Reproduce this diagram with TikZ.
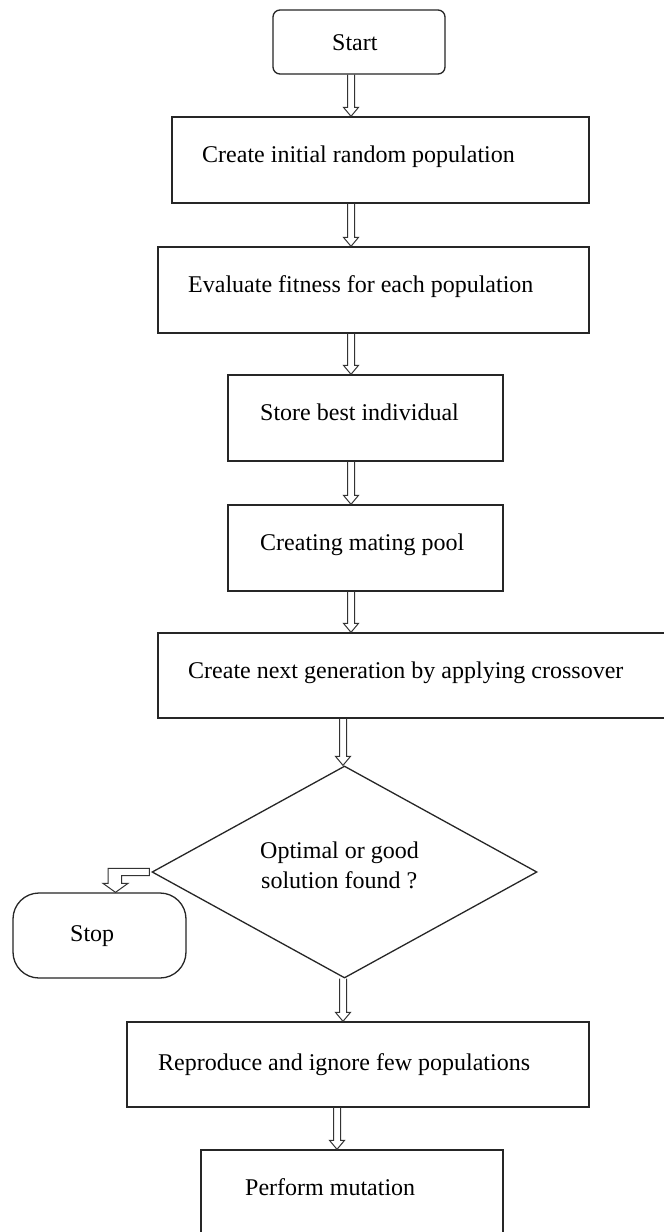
\documentclass[tikz,border=0pt]{standalone}
\usepackage{fontspec}
\setmainfont{Liberation Serif}
\usetikzlibrary{shapes.geometric,calc}
\tikzset{
  shp/.style={draw=black!85, line width=1.3pt, inner sep=0pt},
  box/.style={shp, rectangle},
  startbox/.style={shp, rectangle, rounded corners=7pt},
  stopbox/.style={shp, rectangle, rounded corners=26pt},
  decision/.style={shp, diamond},
  txt/.style={font=\fontsize{24}{30}\selectfont, anchor=base west, inner sep=0pt, text=black},
  harrow/.style={draw=black!80, line width=1pt, line join=miter}
}
% vertical hollow block arrow: x, from node, to node
\newcommand{\hollowdown}[3]{%
  \draw[harrow] let \p1=(#1,0 |- #2.south), \p2=(#1,0 |- #3.north) in
    (\x1-3.5pt,\y1) -- (\x1-3.5pt,\y2+9pt) -- (\x1-7.5pt,\y2+9pt) -- (\x2,\y2)
    -- (\x1+7.5pt,\y2+9pt) -- (\x1+3.5pt,\y2+9pt) -- (\x1+3.5pt,\y1);}
\begin{document}
\begin{tikzpicture}[x=1pt,y=-1pt]
\useasboundingbox (0,0) rectangle (664,1232);
\fill[white] (0,0) rectangle (664,1232);
\clip (0,0) rectangle (664,1232);

% shapes
\node[startbox, minimum width=172pt, minimum height=64pt] (start) at (359,42) {};
\node[box, minimum width=417pt, minimum height=86pt] (b1) at (380.5,160) {};
\node[box, minimum width=431pt, minimum height=86pt] (b2) at (373.5,290) {};
\node[box, minimum width=275pt, minimum height=86pt] (b3) at (365.5,418) {};
\node[box, minimum width=275pt, minimum height=86pt] (b4) at (365.5,548) {};
\node[box, minimum width=532pt, minimum height=85pt] (b5) at (424,675.5) {};
\node[decision, minimum width=385pt, minimum height=212pt] (d) at (344.5,872) {};
\node[stopbox, minimum width=173pt, minimum height=85pt] (stop) at (99.5,935.5) {};
\node[box, minimum width=462pt, minimum height=85pt] (b6) at (358,1064.5) {};
\node[box, minimum width=302pt, minimum height=110pt] (b7) at (352,1205) {};

% texts
\node[txt] (tstart) at (332,50) {Start};
\node[txt] (t1) at (202,162.5) {Create initial random population};
\node[txt] (t2) at (188,292.5) {Evaluate fitness for each population};
\node[txt] (t3) at (260,420.5) {Store best individual};
\node[txt] (t4) at (260,550.5) {Creating mating pool};
\node[txt] (t5) at (188,678.5) {Create next generation by applying crossover};
\node[txt] (td1) at (260,858) {Optimal or good};
\node[txt] (td2) at (261,888) {solution found ?};
\node[txt] (tstop) at (70,941.5) {Stop};
\node[txt] (t6) at (158,1070) {Reproduce and ignore few populations};
\node[txt] (t7) at (245,1195) {Perform mutation};

% connectors
\hollowdown{351}{start}{b1}
\hollowdown{351}{b1}{b2}
\hollowdown{351}{b2}{b3}
\hollowdown{351}{b3}{b4}
\hollowdown{351}{b4}{b5}
\hollowdown{343}{b5}{d}
\hollowdown{343}{d}{b6}
\hollowdown{337}{b6}{b7}

% L-shaped hollow arrow from decision to Stop
\draw[harrow] let \p1=(d.west), \p2=(115.5,0 |- stop.north) in
  (\x1-2pt,\y1+3.7pt) -- (\x2-7.5pt,\y1+3.7pt) -- (\x2-7.5pt,\y2+9pt)
  -- (\x2-12.5pt,\y2+9pt) -- (\x2,\y2) -- (\x2+12.5pt,\y2+9pt)
  -- (\x2+6.2pt,\y2+9pt) -- (\x2+6.2pt,\y1-3.7pt) -- (\x1-2pt,\y1-3.7pt) -- cycle;
\end{tikzpicture}
\end{document}
